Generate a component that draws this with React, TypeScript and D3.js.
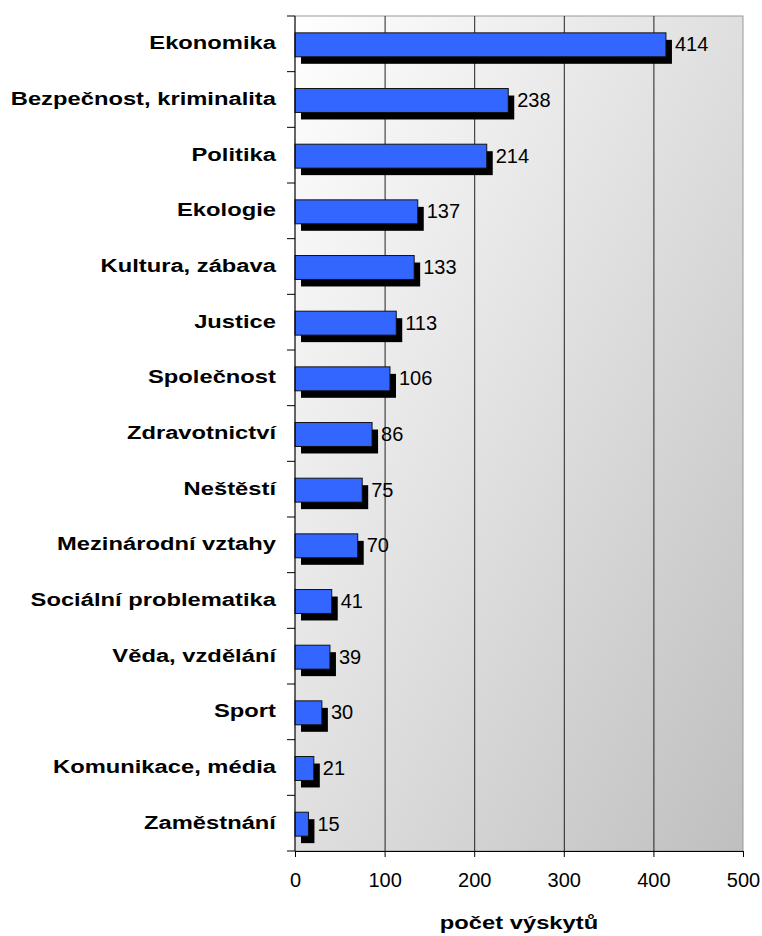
import React, { useEffect, useRef } from 'react';
import * as d3 from 'd3';

const categories = [
  'Ekonomika', 'Bezpečnost, kriminalita', 'Politika', 'Ekologie', 'Kultura, zábava',
  'Justice', 'Společnost', 'Zdravotnictví', 'Neštěstí', 'Mezinárodní vztahy',
  'Sociální problematika', 'Věda, vzdělání', 'Sport', 'Komunikace, média', 'Zaměstnání',
];
const values = [414, 238, 214, 137, 133, 113, 106, 86, 75, 70, 41, 39, 30, 21, 15];
const xTicks = [0, 100, 200, 300, 400, 500];
const axisTitle = 'počet výskytů';

export default function App() {
  const ref = useRef<SVGSVGElement>(null);

  useEffect(() => {
    const svg = d3.select(ref.current);
    svg.selectAll('*').remove();

    const left = 295, right = 743, top = 16, bottom = 851;
    const font = 'Arial, "Liberation Sans", sans-serif';
    const stretch = 1.32; // bold labels are drawn wide in the original

    const x = d3.scaleLinear().domain([0, 500]).range([left, right]);
    const y = d3.scaleBand().domain(categories).range([top + 1, bottom + 1]).paddingInner(0.57).paddingOuter(0.285);

    const defs = svg.append('defs');
    const grad = defs.append('linearGradient').attr('id', 'bg')
      .attr('x1', '0').attr('y1', '0').attr('x2', '1').attr('y2', '1');
    grad.append('stop').attr('offset', '0%').attr('stop-color', '#ffffff');
    grad.append('stop').attr('offset', '100%').attr('stop-color', '#bfbfbf');

    svg.append('rect')
      .attr('x', left).attr('y', top)
      .attr('width', right - left).attr('height', bottom - top)
      .attr('fill', 'url(#bg)')
      .attr('stroke', '#999').attr('stroke-width', 1);

    // vertical gridlines
    svg.append('g')
      .attr('transform', `translate(0, ${top})`)
      .call(d3.axisTop(x).tickValues(xTicks.slice(1, -1)).tickSize(-(bottom - top)).tickFormat(() => ''))
      .call(g => g.select('.domain').remove())
      .call(g => g.selectAll('line').attr('stroke', '#222'));

    // shadows
    svg.append('g').selectAll('rect')
      .data(values)
      .enter().append('rect')
      .attr('x', x(0) + 6)
      .attr('y', (d, i) => (y(categories[i]) as number) + 7)
      .attr('width', d => x(d) - x(0))
      .attr('height', y.bandwidth())
      .attr('fill', '#000');

    // bars
    svg.append('g').selectAll('rect')
      .data(values)
      .enter().append('rect')
      .attr('x', x(0))
      .attr('y', (d, i) => y(categories[i]) as number)
      .attr('width', d => x(d) - x(0))
      .attr('height', y.bandwidth())
      .attr('fill', '#3366ff')
      .attr('stroke', '#111').attr('stroke-width', 1);

    // value labels
    svg.append('g').selectAll('text')
      .data(values)
      .enter().append('text')
      .attr('x', d => x(d) + 9)
      .attr('y', (d, i) => (y(categories[i]) as number) + y.bandwidth() / 2 + 6.5)
      .attr('font-family', font).attr('font-size', 20)
      .text(d => d);

    // y axis with category boundary ticks
    const yAxis = svg.append('g');
    yAxis.append('line')
      .attr('x1', left).attr('x2', left).attr('y1', top).attr('y2', bottom)
      .attr('stroke', '#000');
    const step = (bottom - top) / categories.length;
    yAxis.selectAll('line.tick')
      .data(d3.range(categories.length + 1))
      .enter().append('line')
      .attr('class', 'tick')
      .attr('x1', left - 8).attr('x2', left)
      .attr('y1', d => top + d * step).attr('y2', d => top + d * step)
      .attr('stroke', '#000');
    yAxis.append('g')
      .attr('transform', `scale(${stretch}, 1)`)
      .selectAll('text')
      .data(categories)
      .enter().append('text')
      .attr('x', 276 / stretch)
      .attr('y', d => (y(d) as number) + y.bandwidth() / 2 + 4.5)
      .attr('text-anchor', 'end')
      .attr('font-family', font).attr('font-size', 18).attr('font-weight', 'bold')
      .text(d => d);

    // x axis
    svg.append('g')
      .attr('transform', `translate(0, ${bottom})`)
      .call(d3.axisBottom(x).tickValues(xTicks).tickSize(6).tickSizeOuter(0).tickPadding(16))
      .call(g => g.select('.domain').attr('stroke', '#000'))
      .call(g => g.selectAll('text').attr('font-family', font).attr('font-size', 20).attr('fill', '#000'));

    svg.append('text')
      .attr('transform', `scale(${stretch}, 1)`)
      .attr('x', (left + right) / 2 / stretch)
      .attr('y', 929)
      .attr('text-anchor', 'middle')
      .attr('font-family', font).attr('font-size', 18).attr('font-weight', 'bold')
      .text(axisTitle);
  }, []);

  return (
    <svg ref={ref} width={762} height={936} style={{ position: 'absolute', left: 0, top: 0, background: '#fff' }} />
  );
}
